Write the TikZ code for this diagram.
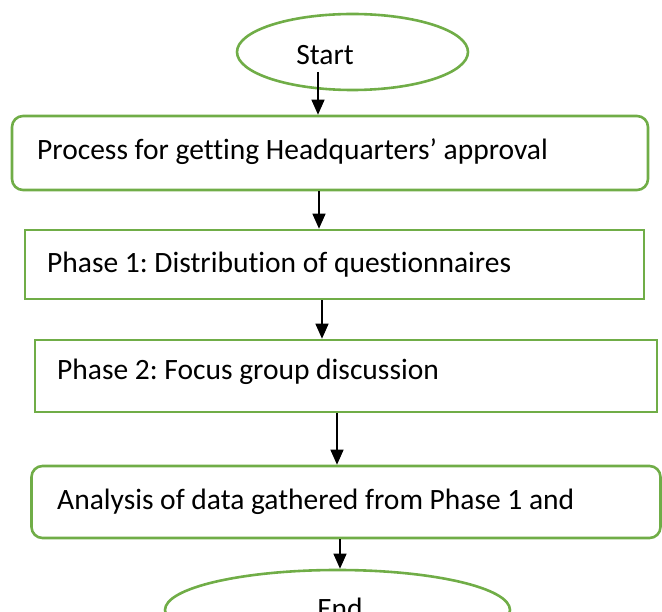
\documentclass[tikz,border=0pt]{standalone}
\usepackage{fontspec}
\setmainfont{Carlito}[Ligatures=NoCommon]
\frenchspacing
\usetikzlibrary{arrows.meta,shapes.geometric}
\definecolor{boxgreen}{RGB}{112,173,71}
\begin{document}
\begin{tikzpicture}[x=1pt,y=-1pt,
  every node/.style={font=\fontsize{29.5}{34}\selectfont},
  greenline/.style={draw=boxgreen,line width=2.6pt},
  oval/.style={greenline,ellipse,inner sep=0pt},
  sqbox/.style={greenline,rectangle,inner sep=0pt},
  rdbox/.style={greenline,rectangle,rounded corners=11pt,inner sep=0pt},
  lbl/.style={anchor=base west,inner sep=0pt},
  clbl/.style={anchor=base,inner sep=0pt},
  arr/.style={draw=black,line width=1.3pt,-{Triangle[width=13pt,length=15pt]}}
]
\useasboundingbox (0,0) rectangle (662,612);
\clip (0,0) rectangle (662,612);

% shapes
\node[oval,minimum width=231pt,minimum height=76pt] (start) at (352.5,52) {};
\node[rdbox,minimum width=636pt,minimum height=74pt] (b1) at (330,153) {};
\node[sqbox,minimum width=619pt,minimum height=69pt] (b2) at (334.5,264.5) {};
\node[sqbox,minimum width=622pt,minimum height=72pt] (b3) at (346,376) {};
\node[rdbox,minimum width=629pt,minimum height=72pt] (b4) at (346,502) {};
\node[oval,minimum width=345pt,minimum height=80pt] (end) at (337.5,610) {};

% texts
\node[clbl] (tstart) at (325,65) {Start};
\node[lbl] (t1) at (37,160) {Process for getting Headquarters’ approval};
\node[lbl] (t2) at (47,273) {Phase 1: Distribution of questionnaires};
\node[lbl] (t3) at (57,380) {Phase 2: Focus group discussion};
\node[lbl] (t4) at (57,510) {Analysis of data gathered from Phase 1 and};
\node[clbl] (tend) at (340,618) {End};

% connectors
\coordinate (s1) at (318,72);
\coordinate (x2) at (319,0);
\coordinate (x3) at (322,0);
\coordinate (x4) at (337,0);
\coordinate (x5) at (340,0);
\draw[arr] (s1) -- (s1 |- b1.north);
\draw[arr] (x2 |- b1.south) -- (x2 |- b2.north);
\draw[arr] (x3 |- b2.south) -- (x3 |- b3.north);
\draw[arr] (x4 |- b3.south) -- (x4 |- b4.north);
\draw[arr] (x5 |- b4.south) -- (x5 |- end.north);
\end{tikzpicture}
\end{document}
